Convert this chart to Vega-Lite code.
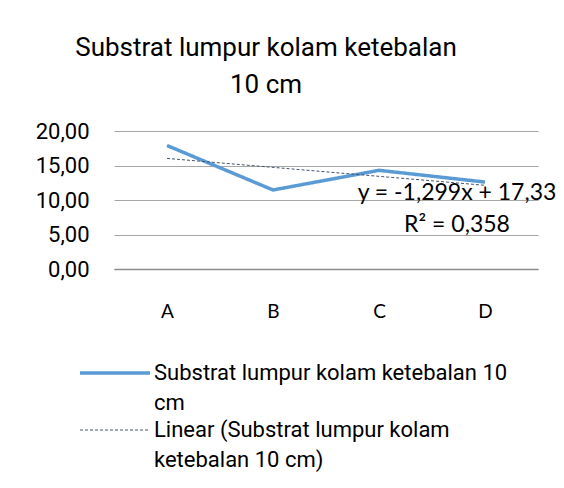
{
  "$schema": "https://vega.github.io/schema/vega-lite/v6.json",
  "width": 424,
  "height": 138,
  "autosize": {"type": "none"},
  "padding": {"left": 114, "top": 131, "right": 26, "bottom": 219},
  "background": "white",
  "title": {
    "text": ["Substrat lumpur kolam ketebalan", "10 cm"],
    "font": "Roboto",
    "fontSize": 26,
    "fontWeight": "normal",
    "color": "#000000",
    "anchor": "middle",
    "dx": -60,
    "lineHeight": 37,
    "offset": 22
  },
  "data": {
    "values": [
      {"cat": "A", "series": "Substrat lumpur kolam ketebalan 10 cm", "v": 17.9},
      {"cat": "B", "series": "Substrat lumpur kolam ketebalan 10 cm", "v": 11.45},
      {"cat": "C", "series": "Substrat lumpur kolam ketebalan 10 cm", "v": 14.3},
      {"cat": "D", "series": "Substrat lumpur kolam ketebalan 10 cm", "v": 12.6},
      {"cat": "A", "series": "Linear (Substrat lumpur kolam ketebalan 10 cm)", "v": 16.03},
      {"cat": "B", "series": "Linear (Substrat lumpur kolam ketebalan 10 cm)", "v": 14.73},
      {"cat": "C", "series": "Linear (Substrat lumpur kolam ketebalan 10 cm)", "v": 13.43},
      {"cat": "D", "series": "Linear (Substrat lumpur kolam ketebalan 10 cm)", "v": 12.13}
    ]
  },
  "layer": [
    {
      "mark": {"type": "line", "strokeCap": "butt"},
      "encoding": {
        "x": {
          "field": "cat",
          "type": "nominal",
          "scale": {"type": "point", "padding": 0.5},
          "axis": {
            "title": null,
            "labelAngle": 0,
            "ticks": false,
            "labelPadding": 33,
            "labelFont": "Lato",
            "labelFontSize": 19,
            "labelColor": "#000000",
            "domainColor": "#8c8c8c",
            "domainWidth": 1.5,
            "grid": false
          }
        },
        "y": {
          "field": "v",
          "type": "quantitative",
          "scale": {"domain": [0, 20], "nice": false},
          "axis": {
            "title": null,
            "values": [0, 5, 10, 15, 20],
            "labelExpr": "replace(format(datum.value, '.2f'), '.', ',')",
            "labelOverlap": false,
            "ticks": false,
            "domain": false,
            "labelPadding": 25,
            "labelFont": "Roboto",
            "labelFontSize": 22,
            "labelColor": "#000000",
            "gridColor": "#a6a6a6",
            "gridWidth": 1
          }
        },
        "color": {
          "field": "series",
          "type": "nominal",
          "sort": null,
          "scale": {
            "domain": ["Substrat lumpur kolam ketebalan 10 cm", "Linear (Substrat lumpur kolam ketebalan 10 cm)"],
            "range": ["#5b9bd5", "#44546a"]
          },
          "legend": {
            "orient": "none",
            "legendX": -10,
            "legendY": 231,
            "title": null,
            "padding": 0,
            "symbolType": "M-7,0H7",
            "symbolSize": 100,
            "labelOffset": 28,
            "labelLimit": 0,
            "labelFont": "Roboto",
            "labelFontSize": 22,
            "labelColor": "#000000",
            "labelBaseline": "middle",
            "rowPadding": 5,
            "labelExpr": "datum.label == 'Substrat lumpur kolam ketebalan 10 cm' ? ['Substrat lumpur kolam ketebalan 10', 'cm'] : ['Linear (Substrat lumpur kolam', 'ketebalan 10 cm)']"
          }
        },
        "strokeDash": {
          "field": "series",
          "type": "nominal",
          "sort": null,
          "scale": {
            "domain": ["Substrat lumpur kolam ketebalan 10 cm", "Linear (Substrat lumpur kolam ketebalan 10 cm)"],
            "range": [[1, 0], [3, 2]]
          }
        },
        "strokeWidth": {
          "field": "series",
          "type": "nominal",
          "sort": null,
          "scale": {
            "domain": ["Substrat lumpur kolam ketebalan 10 cm", "Linear (Substrat lumpur kolam ketebalan 10 cm)"],
            "range": [3.5, 1]
          }
        }
      }
    },
    {
      "data": {"values": [{"slope": -1.299, "intercept": 17.33, "r2": 0.358}]},
      "mark": {
        "type": "text",
        "text": ["y = -1,299x + 17,33", "R² = 0,358"],
        "lineHeight": 32,
        "align": "center",
        "baseline": "alphabetic",
        "dx": -28,
        "font": "Lato",
        "fontSize": 23,
        "color": "#000000"
      },
      "encoding": {
        "x": {"datum": "D", "type": "nominal"},
        "y": {
          "datum": 10,
          "type": "quantitative",
          "axis": {
            "title": null,
            "values": [0, 5, 10, 15, 20],
            "labelExpr": "replace(format(datum.value, '.2f'), '.', ',')",
            "labelOverlap": false,
            "ticks": false,
            "domain": false,
            "labelPadding": 25,
            "labelFont": "Roboto",
            "labelFontSize": 22,
            "labelColor": "#000000",
            "gridColor": "#a6a6a6",
            "gridWidth": 1
          }
        }
      }
    }
  ],
  "config": {
    "view": {"stroke": null},
    "style": {"guide-label": {"lineHeight": 30}}
  }
}
